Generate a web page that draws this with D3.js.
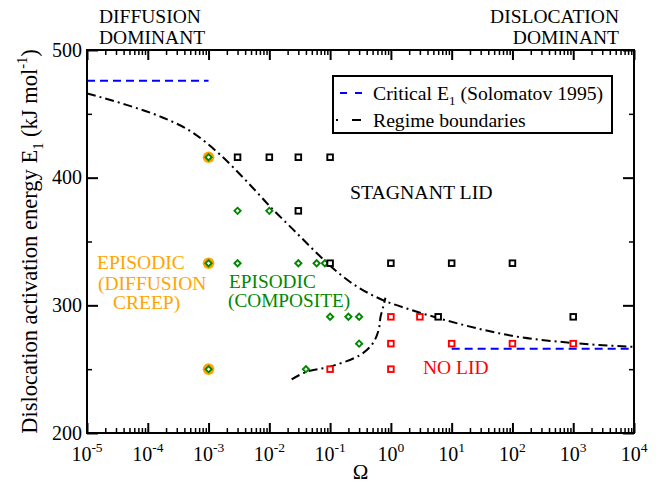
<!DOCTYPE html>
<html><head><meta charset="utf-8">
<script src="https://cdn.jsdelivr.net/npm/d3@7"></script>
<style>
body{margin:0;background:#fff}
</style>
</head><body>
<svg id="chart" width="662" height="484" font-family="'Liberation Serif', 'Times New Roman', serif" style="font-family:'Liberation Serif','Times New Roman',serif"></svg>
<script>
// ---- data ----
const stagnantOmega = [3e-3, 1e-2, 3e-2, 0.1, 3e-2, 0.1, 1, 10, 100, 6, 1000];
const stagnantE     = [416, 416, 416, 416, 374, 333, 333, 333, 333, 291, 291];

const noLidOmega = [1, 3, 1, 10, 100, 1000, 0.1, 1];
const noLidE     = [291, 291, 270, 270, 270, 270, 250, 250];

const compositeOmega = [1e-3, 3e-3, 1e-2, 1e-3, 3e-3, 3e-2, 0.06, 0.082, 0.1, 0.2, 0.3, 0.3, 1e-3, 0.04];
const compositeE     = [416, 374, 374, 333, 333, 333, 333, 333, 291, 291, 291, 270, 250, 250];

const diffusionOmega = [1e-3, 1e-3, 1e-3];
const diffusionE     = [416, 333, 250];

const critLeftOmega  = [1e-5, 1e-3];
const critLeftE      = [476, 476];
const critRightOmega = [10, 1e4];
const critRightE     = [266, 266];

const upperOmega = [1e-5, 4.47e-5, 1.58e-4, 5.62e-4, 1.55e-3, 4.27e-3, 1.15e-2, 2.45e-2, 6.31e-2, 0.1, 0.211, 0.746, 1.82, 3.39, 17.6, 102, 1000, 1e4];
const upperE     = [466, 457, 448, 435, 418, 397, 375, 359.5, 340, 331, 318.5, 304, 297.5, 293.5, 284, 276, 270.5, 267.5];

const lowerOmega = [0.0233, 0.0411, 0.1, 0.309, 0.501, 0.631, 0.676, 0.759, 0.813];
const lowerE     = [242, 248, 252, 261, 270, 281, 291, 300, 306];

const xTickExponents = [-5, -4, -3, -2, -1, 0, 1, 2, 3, 4];
const yTickValues = [200, 300, 400, 500];
const yMinorValues = [250, 350, 450];

// ---- layout ----
const FONT = "'Liberation Serif','Times New Roman',serif";
const L = 87, R = 634, T = 50, B = 433;
const svg = d3.select("#chart");
const x = d3.scaleLog().domain([1e-5, 1e4]).range([L, R]);
const y = d3.scaleLinear().domain([200, 500]).range([B, T]);

const clipId = "plotclip";
svg.append("clipPath").attr("id", clipId).append("rect")
  .attr("x", L).attr("y", T).attr("width", R - L).attr("height", B - T);

const plot = svg.append("g").attr("clip-path", `url(#${clipId})`);
const zip = (a, b) => a.map((v, i) => [v, b[i]]);

const line = d3.line().x(d => x(d[0])).y(d => y(d[1]));

// critical E1 lines
[[critLeftOmega, critLeftE], [critRightOmega, critRightE]].forEach(([o, e]) => {
  plot.append("path").datum(zip(o, e)).attr("d", line)
    .attr("fill", "none").attr("stroke", "#0000ff").attr("stroke-width", 2)
    .attr("stroke-dasharray", "8,5");
});

// regime boundaries
plot.append("path").datum(zip(upperOmega, upperE))
  .attr("d", d3.line().x(d => x(d[0])).y(d => y(d[1])).curve(d3.curveMonotoneX))
  .attr("fill", "none").attr("stroke", "#000").attr("stroke-width", 2)
  .attr("stroke-dasharray", "9,4,2,4");
plot.append("path").datum(zip(lowerOmega, lowerE))
  .attr("d", d3.line().x(d => x(d[0])).y(d => y(d[1])).curve(d3.curveCatmullRom))
  .attr("fill", "none").attr("stroke", "#000").attr("stroke-width", 2)
  .attr("stroke-dasharray", "9,4,2,4");

// markers
plot.selectAll(".orange").data(zip(diffusionOmega, diffusionE)).join("circle")
  .attr("cx", d => x(d[0])).attr("cy", d => y(d[1])).attr("r", 5.8)
  .attr("fill", "#ffa500");

plot.selectAll(".dia").data(zip(compositeOmega, compositeE)).join("rect")
  .attr("x", -2.2).attr("y", -2.2).attr("width", 4.4).attr("height", 4.4)
  .attr("transform", d => `translate(${x(d[0])},${y(d[1])}) rotate(45)`)
  .attr("fill", "#fff").attr("stroke", "#008800").attr("stroke-width", 1.9);

const sq = 5.6;
plot.selectAll(".blk").data(zip(stagnantOmega, stagnantE)).join("rect")
  .attr("x", d => x(d[0]) - sq / 2).attr("y", d => y(d[1]) - sq / 2)
  .attr("width", sq).attr("height", sq)
  .attr("fill", "#fff").attr("stroke", "#000").attr("stroke-width", 1.9);

plot.selectAll(".red").data(zip(noLidOmega, noLidE)).join("rect")
  .attr("x", d => x(d[0]) - sq / 2).attr("y", d => y(d[1]) - sq / 2)
  .attr("width", sq).attr("height", sq)
  .attr("fill", "#fff").attr("stroke", "#ff0000").attr("stroke-width", 1.9);

// ---- axes (inward ticks on all four sides) ----
const allX = x.ticks(10);
const majorX = allX.filter(v => Math.abs(Math.log10(v) - Math.round(Math.log10(v))) < 1e-9);
const minorX = allX.filter(v => !majorX.includes(v));

function styleAxis(g, w) {
  g.select(".domain").remove();
  g.selectAll("line").attr("stroke", "#000").attr("stroke-width", w);
  g.selectAll("text").remove();
}
svg.append("g").attr("transform", `translate(0,${B})`)
  .call(d3.axisBottom(x).tickValues(majorX).tickSize(-10).tickFormat("")).call(g => styleAxis(g, 2));
svg.append("g").attr("transform", `translate(0,${B})`)
  .call(d3.axisBottom(x).tickValues(minorX).tickSize(-5).tickFormat("")).call(g => styleAxis(g, 1.5));
svg.append("g").attr("transform", `translate(0,${T})`)
  .call(d3.axisTop(x).tickValues(majorX).tickSize(-10).tickFormat("")).call(g => styleAxis(g, 2));
svg.append("g").attr("transform", `translate(0,${T})`)
  .call(d3.axisTop(x).tickValues(minorX).tickSize(-5).tickFormat("")).call(g => styleAxis(g, 1.5));
svg.append("g").attr("transform", `translate(${L},0)`)
  .call(d3.axisLeft(y).tickValues(yTickValues).tickSize(-11).tickFormat("")).call(g => styleAxis(g, 2));
svg.append("g").attr("transform", `translate(${L},0)`)
  .call(d3.axisLeft(y).tickValues(yMinorValues).tickSize(-5).tickFormat("")).call(g => styleAxis(g, 1.5));
svg.append("g").attr("transform", `translate(${R},0)`)
  .call(d3.axisRight(y).tickValues(yTickValues).tickSize(-11).tickFormat("")).call(g => styleAxis(g, 2));
svg.append("g").attr("transform", `translate(${R},0)`)
  .call(d3.axisRight(y).tickValues(yMinorValues).tickSize(-5).tickFormat("")).call(g => styleAxis(g, 1.5));

// frame
svg.append("rect").attr("x", L).attr("y", T).attr("width", R - L).attr("height", B - T)
  .attr("fill", "none").attr("stroke", "#000").attr("stroke-width", 2);

function txt(parent, xx, yy, size) {
  return parent.append("text").attr("x", xx).attr("y", yy).attr("font-size", size)
    .attr("font-family", FONT).style("font-family", FONT);
}

// x tick labels (10^n)
xTickExponents.forEach(e => {
  const t = txt(svg, x(Math.pow(10, e)), 461, 20).attr("text-anchor", "middle");
  t.append("tspan").text("10");
  t.append("tspan").attr("dy", -9).attr("font-size", 13.5).text(String(e));
});

// y tick labels
yTickValues.forEach(v => {
  txt(svg, L - 5, y(v), 20).attr("dy", "0.34em").attr("text-anchor", "end").text(v);
});

// axis titles
txt(svg, (L + R) / 2, 479, 21).attr("text-anchor", "middle").text("Ω");

const yl = svg.append("text").attr("transform", `translate(37,${(T + B) / 2}) rotate(-90)`)
  .attr("text-anchor", "middle").attr("font-size", 22.5)
  .attr("font-family", FONT).style("font-family", FONT);
yl.append("tspan").text("Dislocation activation energy E");
yl.append("tspan").attr("font-size", 14.5).attr("dy", 6).text("1");
yl.append("tspan").attr("dy", -6).text(" (kJ mol");
yl.append("tspan").attr("font-size", 14.5).attr("dy", -10).text("-1");
yl.append("tspan").attr("dy", 10).text(")");

// top annotations
txt(svg, 99, 23, 19.5).text("DIFFUSION");
txt(svg, 99, 44, 19.5).text("DOMINANT");
txt(svg, 619, 23, 19.5).attr("text-anchor", "end").text("DISLOCATION");
txt(svg, 619, 44, 19.5).attr("text-anchor", "end").text("DOMINANT");

// region labels
txt(svg, 350, 199, 19.8).text("STAGNANT LID");
txt(svg, 423, 373.5, 19.5).attr("fill", "#ff0000").text("NO LID");
txt(svg, 97, 269, 19.5).attr("fill", "#ffa500").text("EPISODIC");
txt(svg, 98, 289.5, 19.5).attr("fill", "#ffa500").text("(DIFFUSION");
txt(svg, 113, 308.5, 19.5).attr("fill", "#ffa500").text("CREEP)");
txt(svg, 229, 288, 19.3).attr("fill", "#008800").text("EPISODIC");
txt(svg, 228, 307, 19.3).attr("fill", "#008800").text("(COMPOSITE)");

// legend
const lg = svg.append("g");
lg.append("rect").attr("x", 333).attr("y", 76).attr("width", 279).attr("height", 57)
  .attr("fill", "#fff").attr("stroke", "#000").attr("stroke-width", 2);
lg.append("line").attr("x1", 340).attr("x2", 363).attr("y1", 93).attr("y2", 93)
  .attr("stroke", "#0000ff").attr("stroke-width", 2).attr("stroke-dasharray", "7,8");
const lt = txt(lg, 373, 99.5, 19.7);
lt.append("tspan").text("Critical E");
lt.append("tspan").attr("font-size", 13).attr("dy", 5).text("1");
lt.append("tspan").attr("dy", -5).text(" (Solomatov 1995)");
lg.append("line").attr("x1", 336).attr("x2", 363).attr("y1", 120).attr("y2", 120)
  .attr("stroke", "#000").attr("stroke-width", 2).attr("stroke-dasharray", "2,14,9,20");
txt(lg, 373, 126.5, 19.7).text("Regime boundaries");
</script>
</body></html>
